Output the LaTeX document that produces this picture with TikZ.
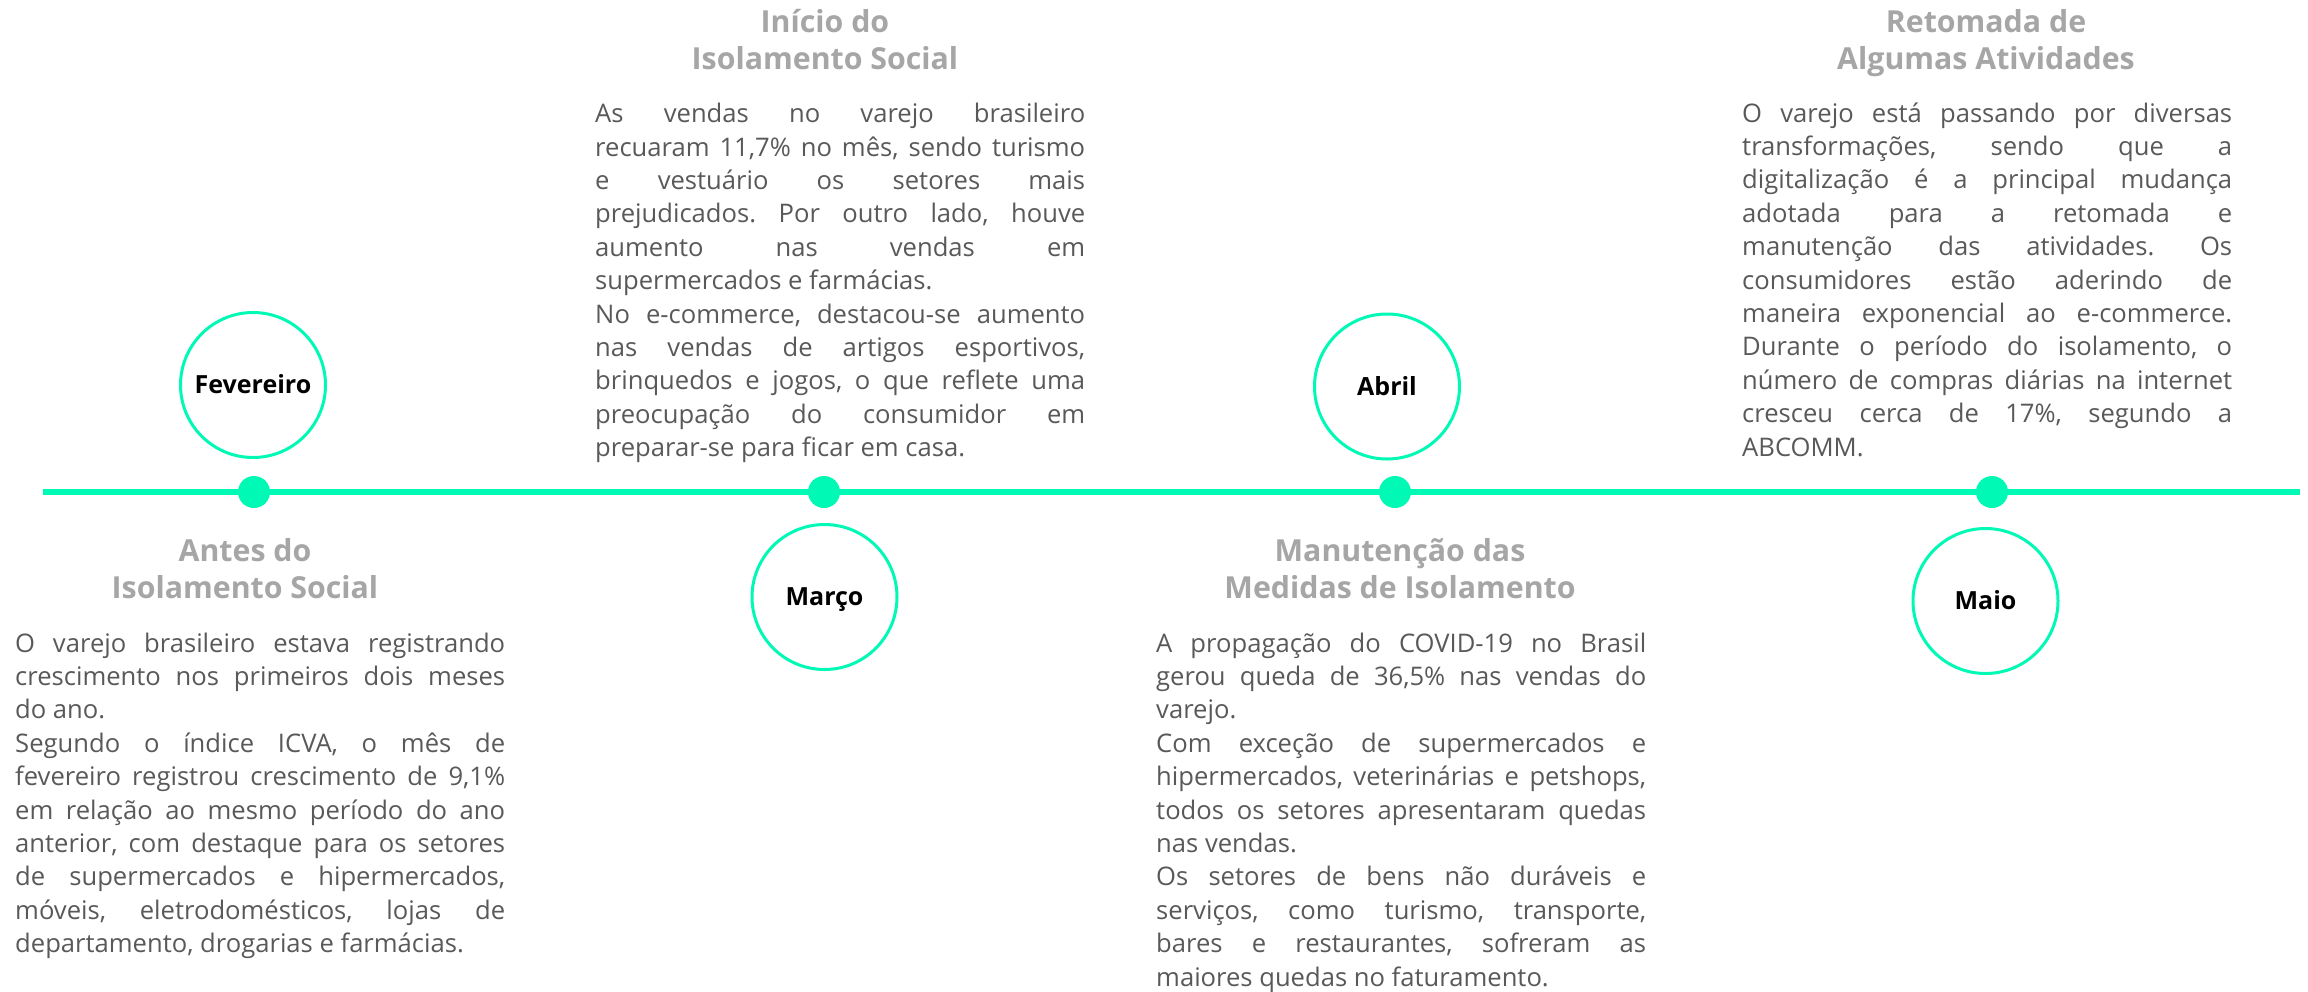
\documentclass[tikz,border=0pt]{standalone}
\usepackage{fontspec}
\setmainfont{Open Sans}
\definecolor{tl}{RGB}{0,250,182}
\definecolor{hd}{RGB}{166,166,166}
\definecolor{bd}{RGB}{89,89,89}
\newlength{\bw}\setlength{\bw}{490pt}
\newcommand{\jl}[1]{\hbox to \bw{#1}}
\newcommand{\lastl}[1]{\hbox{#1}}
\newcommand{\hdtext}[1]{\vtop{\halign{\hfil##\hfil\cr#1\crcr}}}
\frenchspacing
\tikzset{
  body/.style={anchor=base west, inner sep=0pt, text=bd, font=\fontsize{25.6}{33.4}\selectfont\frenchspacing},
  head/.style={anchor=base, inner sep=0pt, text=hd, font=\bfseries\fontsize{30.3}{37.5}\selectfont},
  month/.style={circle, draw=tl, line width=3pt, minimum size=145pt, inner sep=0pt, text=black,
    font=\bfseries\fontsize{25}{28}\selectfont, text height=17.5pt, text depth=0pt},
  dot/.style={circle, fill=tl, minimum size=32pt, inner sep=0pt},
  axis/.style={draw=tl, line width=6pt}
}
\begin{document}
\begin{tikzpicture}[x=1pt,y=-1pt]
\useasboundingbox[fill=white] (0,0) rectangle (2308,991);
% timeline
\coordinate (ls) at (43,492);
\coordinate (le) at (2300,492);
\draw[axis] (ls) -- (le);
\node[dot] (d1) at (254,492) {};
\node[dot] (d2) at (824,492) {};
\node[dot] (d3) at (1395,492) {};
\node[dot] (d4) at (1992,492) {};
% month circles
\node[month] (fev) at (253,385) {Fevereiro};
\node[month] (mar) at (824.5,597) {Março};
\node[month] (abr) at (1387,386.5) {Abril};
\node[month] (mai) at (1985.5,601) {Maio};
% headings
\node[head] (h1) at (245,561) {\hdtext{Antes do\cr Isolamento Social}};
\node[head] (h2) at (825,32) {\hdtext{Início do\cr Isolamento Social}};
\node[head] (h3) at (1400,561) {\hdtext{Manutenção das\cr Medidas de Isolamento}};
\node[head] (h4) at (1986,32) {\hdtext{Retomada de\cr Algumas Atividades}};
% body texts
\node[body] (t1) at (15,652) {\vtop{%
\jl{O varejo brasileiro estava registrando}
\jl{crescimento nos primeiros dois meses}
\lastl{do ano.}
\jl{Segundo o índice ICVA, o mês de}
\jl{fevereiro registrou crescimento de 9,1\%}
\jl{em relação ao mesmo período do ano}
\jl{anterior, com destaque para os setores}
\jl{de supermercados e hipermercados,}
\jl{móveis, eletrodomésticos, lojas de}
\lastl{departamento, drogarias e farmácias.}}};
\node[body] (t2) at (595,122.7) {\vtop{%
\jl{As vendas no varejo brasileiro}
\jl{recuaram 11,7\% no mês, sendo turismo}
\jl{e vestuário os setores mais}
\jl{prejudicados. Por outro lado, houve}
\jl{aumento nas vendas em}
\lastl{supermercados e farmácias.}
\jl{No e-commerce, destacou-se aumento}
\jl{nas vendas de artigos esportivos,}
\jl{brinquedos e jogos, o que reflete uma}
\jl{preocupação do consumidor em}
\lastl{preparar-se para ficar em casa.}}};
\node[body] (t3) at (1156,652) {\vtop{%
\jl{A propagação do COVID-19 no Brasil}
\jl{gerou queda de 36,5\% nas vendas do}
\lastl{varejo.}
\jl{Com exceção de supermercados e}
\jl{hipermercados, veterinárias e petshops,}
\jl{todos os setores apresentaram quedas}
\lastl{nas vendas.}
\jl{Os setores de bens não duráveis e}
\jl{serviços, como turismo, transporte,}
\jl{bares e restaurantes, sofreram as}
\lastl{maiores quedas no faturamento.}}};
\node[body] (t4) at (1742,122) {\vtop{%
\jl{O varejo está passando por diversas}
\jl{transformações, sendo que a}
\jl{digitalização é a principal mudança}
\jl{adotada para a retomada e}
\jl{manutenção das atividades. Os}
\jl{consumidores estão aderindo de}
\jl{maneira exponencial ao e-commerce.}
\jl{Durante o período do isolamento, o}
\jl{número de compras diárias na internet}
\jl{cresceu cerca de 17\%, segundo a}
\lastl{ABCOMM.}}};
\end{tikzpicture}
\end{document}
